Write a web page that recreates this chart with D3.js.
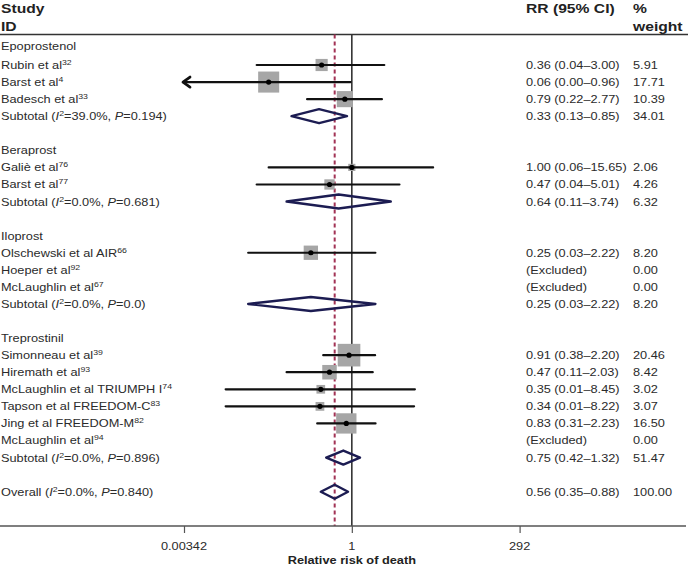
<!DOCTYPE html>
<html>
<head>
<meta charset="utf-8">
<script src="https://cdn.jsdelivr.net/npm/d3@7"></script>
<style>
  html, body { margin: 0; padding: 0; background: #fff; }
  svg { display: block; }
  text { font-family: "Liberation Sans", Arial, Helvetica, sans-serif; }
</style>
</head>
<body>
<svg id="chart" width="688" height="566"></svg>
<script>
// ---------------- data ----------------
const rowType = ["group","study","study","study","sub","blank",
  "group","study","study","sub","blank",
  "group","study","study","study","sub","blank",
  "group","study","study","study","study","study","study","sub","blank",
  "overall"];
const rowLabel = ["Epoprostenol","Rubin et al","Barst et al","Badesch et al","Subtotal","",
  "Beraprost","Galiè et al","Barst et al","Subtotal","",
  "Iloprost","Olschewski et al AIR","Hoeper et al","McLaughlin et al","Subtotal","",
  "Treprostinil","Simonneau et al","Hiremath et al","McLaughlin et al TRIUMPH I","Tapson et al FREEDOM-C","Jing et al FREEDOM-M","McLaughlin et al","Subtotal","",
  "Overall"];
const rowRef = ["","32","4","33","","",
  "","76","77","","",
  "","66","92","67","","",
  "","39","93","74","83","82","94","","",
  ""];
const hetI2 = [null,null,null,null,"39.0%",null,
  null,null,null,"0.0%",null,
  null,null,null,null,"0.0%",null,
  null,null,null,null,null,null,null,"0.0%",null,
  "0.0%"];
const hetP = [null,null,null,null,"0.194",null,
  null,null,null,"0.681",null,
  null,null,null,null,"0.0",null,
  null,null,null,null,null,null,null,"0.896",null,
  "0.840"];
const rrEst = [null,0.36,0.06,0.79,0.33,null,
  null,1.00,0.47,0.64,null,
  null,0.25,null,null,0.25,null,
  null,0.91,0.47,0.35,0.34,0.83,null,0.75,null,
  0.56];
const ciLow = [null,0.04,0.00,0.22,0.13,null,
  null,0.06,0.04,0.11,null,
  null,0.03,null,null,0.03,null,
  null,0.38,0.11,0.014,0.014,0.31,null,0.42,null,
  0.35];
const ciHigh = [null,3.00,0.96,2.77,0.85,null,
  null,15.65,5.01,3.74,null,
  null,2.22,null,null,2.22,null,
  null,2.20,2.03,8.45,8.22,2.23,null,1.32,null,
  0.88];
const rrText = ["","0.36 (0.04–3.00)","0.06 (0.00–0.96)","0.79 (0.22–2.77)","0.33 (0.13–0.85)","",
  "","1.00 (0.06–15.65)","0.47 (0.04–5.01)","0.64 (0.11–3.74)","",
  "","0.25 (0.03–2.22)","(Excluded)","(Excluded)","0.25 (0.03–2.22)","",
  "","0.91 (0.38–2.20)","0.47 (0.11–2.03)","0.35 (0.01–8.45)","0.34 (0.01–8.22)","0.83 (0.31–2.23)","(Excluded)","0.75 (0.42–1.32)","",
  "0.56 (0.35–0.88)"];
const weight = [null,5.91,17.71,10.39,34.01,null,
  null,2.06,4.26,6.32,null,
  null,8.20,0.00,0.00,8.20,null,
  null,20.46,8.42,3.02,3.07,16.50,0.00,51.47,null,
  100.00];
const weightText = ["","5.91","17.71","10.39","34.01","",
  "","2.06","4.26","6.32","",
  "","8.20","0.00","0.00","8.20","",
  "","20.46","8.42","3.02","3.07","16.50","0.00","51.47","",
  "100.00"];
const tickValues = [0.00342, 1, 292];
const tickLabels = ["0.00342", "1", "292"];
const axisTitle = "Relative risk of death";

// ---------------- layout ----------------
const W = 688, H = 566;
const SX = 1.16;           // horizontal stretch of the original picture's text
const textCol = "#2b2b2b";
const svg = d3.select("#chart");

const x = d3.scaleLog().domain([tickValues[0], tickValues[2]]).range([184, 519.6]);
const y = d3.scaleLinear().domain([1, rowType.length - 1]).range([65, 491.7]);
const plotTop = 34.5, axisY = 526;
const colRR = 526, colW = 633;
const overallIdx = rowType.indexOf("overall");

function addText(px, py, parts, opts = {}) {
  const t = svg.append("text")
    .attr("transform", `translate(${px},${py}) scale(${SX},1)`)
    .attr("font-size", opts.size || 11)
    .attr("font-weight", opts.bold ? "bold" : "normal")
    .attr("text-anchor", opts.anchor || "start")
    .attr("fill", opts.fill || textCol);
  let raised = false;
  parts.forEach(p => {
    const s = t.append("tspan").text(p.t);
    if (p.italic) s.attr("font-style", "italic");
    if (p.sup) { s.attr("font-size", 7.5).attr("dy", -4); raised = true; }
    else if (raised) { s.attr("dy", 4); raised = false; }
  });
  return t;
}

// header
addText(1, 13, [{t: "Study"}], {bold: true, size: 13.5, fill: "#222"});
addText(1, 31, [{t: "ID"}], {bold: true, size: 13.5, fill: "#222"});
addText(colRR, 13, [{t: "RR (95% CI)"}], {bold: true, size: 13.5, fill: "#222"});
addText(colW, 13, [{t: "%"}], {bold: true, size: 13.5, fill: "#222"});
addText(colW, 31, [{t: "weight"}], {bold: true, size: 13.5, fill: "#222"});
svg.append("line").attr("x1", 0).attr("x2", W).attr("y1", plotTop).attr("y2", plotTop)
  .attr("stroke", "#333").attr("stroke-width", 1.5);

// reference lines
svg.append("line").attr("x1", x(1)).attr("x2", x(1)).attr("y1", plotTop).attr("y2", axisY)
  .attr("stroke", "#333").attr("stroke-width", 1.6);
svg.append("line").attr("x1", x(rrEst[overallIdx])).attr("x2", x(rrEst[overallIdx]))
  .attr("y1", plotTop).attr("y2", axisY)
  .attr("stroke", "#a23355").attr("stroke-width", 2).attr("stroke-dasharray", "4,3");

// row texts
rowType.forEach((tp, i) => {
  if (tp === "blank") return;
  const yy = (i === 0 ? y(1) - 19.5 : y(i)) + 4;
  let parts;
  if (tp === "sub" || tp === "overall") {
    parts = [{t: rowLabel[i] + " ("}, {t: "I", italic: true}, {t: "2", sup: true},
             {t: "=" + hetI2[i] + ", "}, {t: "P", italic: true}, {t: "=" + hetP[i] + ")"}];
  } else {
    parts = [{t: rowLabel[i]}];
    if (rowRef[i]) parts.push({t: rowRef[i], sup: true});
  }
  addText(1, yy, parts);
  if (rrText[i]) addText(colRR, yy, [{t: rrText[i]}]);
  if (weightText[i]) addText(colW, yy, [{t: weightText[i]}]);
});

// study marks
const studies = d3.range(rowType.length).filter(i => rowType[i] === "study" && rrEst[i] != null);
const [dMin, dMax] = x.domain();

svg.append("g").selectAll("rect").data(studies).join("rect")
  .attr("x", i => x(rrEst[i]) - 2.5 * Math.sqrt(weight[i]))
  .attr("y", i => y(i) - 2.5 * Math.sqrt(weight[i]))
  .attr("width", i => 5 * Math.sqrt(weight[i]))
  .attr("height", i => 5 * Math.sqrt(weight[i]))
  .attr("fill", "#a6a6a6");

svg.append("g").selectAll("line").data(studies).join("line")
  .attr("x1", i => x(Math.max(ciLow[i], dMin)))
  .attr("x2", i => x(Math.min(ciHigh[i], dMax)))
  .attr("y1", i => y(i)).attr("y2", i => y(i))
  .attr("stroke", "#111").attr("stroke-width", 2.2).attr("stroke-linecap", "round");

// arrows for clipped intervals
svg.append("g").selectAll("path").data(studies.filter(i => ciLow[i] < dMin)).join("path")
  .attr("d", i => { const ax = x(dMin) - 1, ay = y(i); return `M${ax + 7},${ay - 5}L${ax},${ay}L${ax + 7},${ay + 5}`; })
  .attr("fill", "none").attr("stroke", "#111").attr("stroke-width", 2.8)
  .attr("stroke-linecap", "round").attr("stroke-linejoin", "round");

svg.append("g").selectAll("circle").data(studies).join("circle")
  .attr("cx", i => x(rrEst[i])).attr("cy", i => y(i)).attr("r", 2.6).attr("fill", "#000");

// pooled diamonds
const pooled = d3.range(rowType.length).filter(i => rowType[i] === "sub" || rowType[i] === "overall");
svg.append("g").selectAll("path").data(pooled).join("path")
  .attr("d", i => {
    const yy = y(i), h = 7;
    return `M${x(ciLow[i])},${yy}L${x(rrEst[i])},${yy - h}L${x(ciHigh[i])},${yy}L${x(rrEst[i])},${yy + h}Z`;
  })
  .attr("fill", "none").attr("stroke", "#1c1c52").attr("stroke-width", 2.4)
  .attr("stroke-linejoin", "round");

// axis
svg.append("line").attr("x1", 0).attr("x2", W - 2).attr("y1", axisY).attr("y2", axisY)
  .attr("stroke", "#555").attr("stroke-width", 1.3);
const axis = d3.axisBottom(x).tickValues(tickValues)
  .tickFormat((d, k) => tickLabels[k]).tickSize(7).tickPadding(0);
const ag = svg.append("g").attr("transform", `translate(0,${axisY})`).call(axis);
ag.select(".domain").remove();
ag.selectAll(".tick line").attr("stroke", "#555").attr("stroke-width", 1.2);
ag.selectAll(".tick text").remove();
tickValues.forEach((v, k) => addText(x(v), 550, [{t: tickLabels[k]}], {anchor: "middle"}));
addText(x(1), 564, [{t: axisTitle}], {anchor: "middle", bold: true, fill: "#222"});
</script>
</body>
</html>
